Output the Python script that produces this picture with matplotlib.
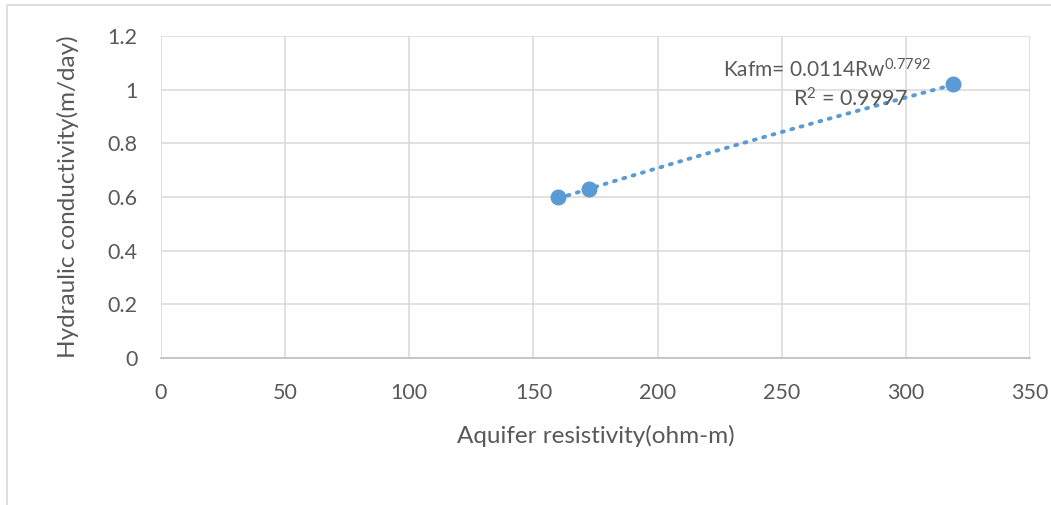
import numpy as np
import matplotlib.pyplot as plt
from matplotlib.patches import Rectangle

# data
resistivity = [160, 172.5, 319]
conductivity = [0.60, 0.63, 1.02]
# power-law trendline shown on the chart: K = a * Rw^b
coef_a = 0.0114
coef_b = 0.7792
r_squared = 0.9997

x_ticks = [0, 50, 100, 150, 200, 250, 300, 350]
y_ticks = [0, 0.2, 0.4, 0.6, 0.8, 1.0, 1.2]
y_labels = ["0", "0.2", "0.4", "0.6", "0.8", "1", "1.2"]

plt.rcParams['font.family'] = ['Lato', 'DejaVu Sans']
plt.rcParams['mathtext.fontset'] = 'custom'
plt.rcParams['mathtext.rm'] = 'Lato'
plt.rcParams['mathtext.it'] = 'Lato'
plt.rcParams['mathtext.default'] = 'regular'
text_col = '#595959'
blue = '#5B9BD5'

fig = plt.figure(figsize=(10.51, 5.05), dpi=100)
# chart frame
fig.patches.append(Rectangle((7 / 1051, -0.01), 1.05, 1 - 5 / 505 + 0.01,
                             transform=fig.transFigure, fill=False,
                             edgecolor='#D9D9D9', lw=1.2))
ax = fig.add_axes([161 / 1051, 1 - 358 / 505, 869 / 1051, 322 / 505])

xs = np.linspace(min(resistivity), max(resistivity), 100)
ax.plot(xs, coef_a * xs ** coef_b, color=blue, lw=2.8, linestyle=(0, (0.5, 2.0)),
        dash_capstyle='round', zorder=3)
ax.plot(resistivity, conductivity, 'o', color=blue, markersize=10.5, zorder=4)

ax.set_xlim(0, 350)
ax.set_ylim(0, 1.2)
ax.set_xticks(x_ticks)
ax.set_yticks(y_ticks)
ax.set_yticklabels(y_labels)
ax.grid(True, color='#D9D9D9', lw=1.1)
ax.set_axisbelow(True)
for s in ['top', 'right', 'left']:
    ax.spines[s].set_visible(False)
ax.spines['bottom'].set_color('#BFBFBF')
ax.spines['bottom'].set_linewidth(1.2)
ax.tick_params(length=0, labelsize=15.5, colors=text_col)
ax.tick_params(axis='x', pad=18)
ax.tick_params(axis='y', pad=17)

ax.set_xlabel("Aquifer resistivity(ohm-m)", fontsize=17.5, color=text_col, labelpad=16)
ax.set_ylabel("Hydraulic conductivity(m/day)", fontsize=17.5, color=text_col, labelpad=20)

ax.text(0.886, 0.894, f"Kafm= {coef_a}Rw$^{{{coef_b}}}$", transform=ax.transAxes,
        ha='right', va='center', fontsize=15, color=text_col)
ax.text(0.860, 0.804, f"R$^{{2}}$ = {r_squared}", transform=ax.transAxes,
        ha='right', va='center', fontsize=15.5, color=text_col)

fig.savefig("out.png", dpi=100)
